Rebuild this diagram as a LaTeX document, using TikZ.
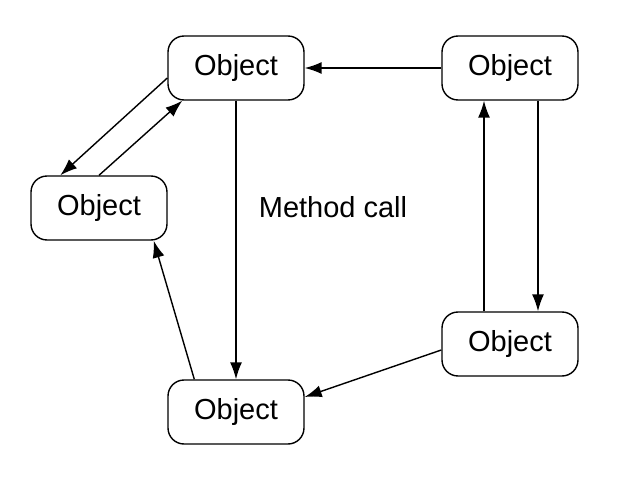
\documentclass[tikz,border=0pt]{standalone}
\usepackage{fontspec}
\setmainfont{Liberation Sans}
\usetikzlibrary{arrows.meta, positioning}

\begin{document}
\begin{tikzpicture}[
    x=0.02cm, y=-0.02cm,
    block/.style={rectangle, draw, thick, text centered, rounded corners=0.32cm, minimum width=2.72cm, minimum height=1.28cm, font=\fontsize{16.5}{19}\selectfont},
    line/.style={draw, thick, -{Latex[length=3.4mm,width=2.4mm]}}
]
\useasboundingbox (0,0) rectangle (626,480);

% Place the nodes
\node [block] at (236,68) (top) {Object};
\node [block] at (510,68) (topright) {Object};
\node [block] at (99,208) (left) {Object};
\node [block] at (510,344) (right) {Object};
\node [block] at (236,412) (bottom) {Object};
\node [font=\fontsize{16.5}{19}\selectfont] at (333,207) (call) {Method call};

% Draw the lines (arrows)
\path [line] (topright) -- (top);
\path [line] (top) -- (bottom);
\path [line] ([xshift=0.56cm]topright.south) -- ([xshift=0.56cm]right.north);
\path [line] ([xshift=-0.52cm]right.north) -- ([xshift=-0.52cm]topright.south);
\path [line] (left.north) -- ([xshift=0.3cm]top.south west);
\path [line] ([yshift=-0.2cm]top.west) -- ([xshift=0.6cm]left.north west);
\path [line] ([xshift=0.54cm]bottom.north west) -- ([xshift=-0.28cm]left.south east);
\path [line] ([yshift=-0.12cm]right.west) -- ([yshift=0.3cm]bottom.east);

\end{tikzpicture}
\end{document}
